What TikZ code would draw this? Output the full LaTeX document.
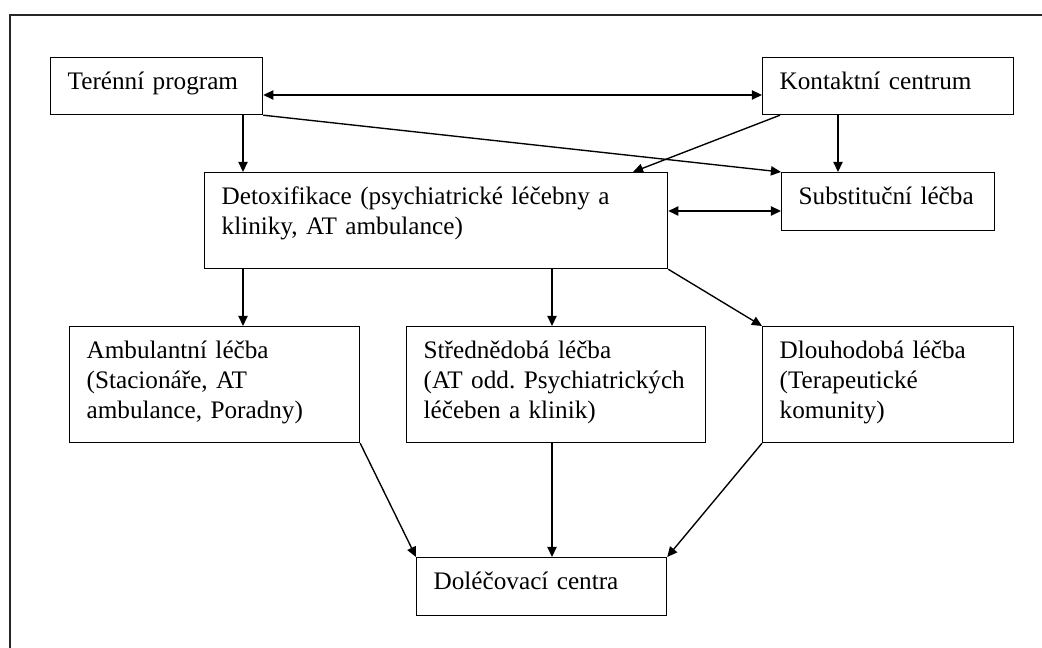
\documentclass[tikz,border=0pt]{standalone}
\usepackage{fontspec}
\setmainfont{Liberation Serif}
\usetikzlibrary{arrows.meta,calc,positioning}
\tikzstyle{edge}  =[>={Triangle[length=4.8pt,width=4.4pt]},
                    line width=0.65pt]
\tikzstyle{box}   =[draw, rectangle, anchor=north west, align=left,
                    line width=0.6pt, inner xsep=8.1pt, inner ysep=0pt,
                    text height=15.2pt, font=\fontsize{12}{14.2}\selectfont]
\tikzstyle{frame} =[line width=1.3pt, black!85]

\begin{document}
\begin{tikzpicture}[x=0.476pt, y=-0.476pt]
    \useasboundingbox (0,0) rectangle (1042,648);
    \draw [frame] (10,648) |- (1042,15);

    \node (1) [box, text width=84.7pt, text depth=11.9pt] at (50,57) {Terénní program};
    \node (2) [box, text width=103.3pt, text depth=11.9pt] at (762,57) {Kontaktní centrum};
    \node (3) [box, text width=204.2pt, text depth=30.5pt] at (204,172)
        {Detoxifikace (psychiatrické léčebny a\\kliniky, AT ambulance)};
    \node (4) [box, text width=85.2pt, text depth=12.4pt] at (781,172) {Substituční~léčba};
    \node (5) [box, text width=121.8pt, text depth=40pt] at (69,326)
        {Ambulantní léčba\\(Stacionáře, AT\\ambulance, Poradny)};
    \node (6) [box, text width=126.1pt, text depth=40pt] at (406,326)
        {Střednědobá léčba\\(AT~odd.~Psychiatrických\\léčeben a klinik)};
    \node (7) [box, text width=103.3pt, text depth=40pt] at (762,326)
        {Dlouhodobá léčba\\(Terapeutické\\komunity)};
    \node (8) [box, text width=102.8pt, text depth=12.4pt] at (416,557) {Doléčovací centra};

    \draw [edge,<->] (1.east |- 0,95) -- (2.west |- 0,95);
    \draw [edge,<->] (3.east |- 0,211) -- (4.west |- 0,211);
    \foreach \i/\j/\x in {1/3/243, 3/5/243, 3/6/552, 6/8/552, 2/4/838}
        \draw [edge,->] (\i.south -| \x,0) -- (\j.north -| \x,0);
    \draw [edge,->] (2.south -| 780,0) -- (3.north -| 633,0);
    \foreach \i/\j in {1.south east/4.north west, 3.south east/7.north west,
    5.south east/8.north west, 7.south west/8.north east}
        \draw [edge,->] (\i) -- (\j);
\end{tikzpicture}
\end{document}
